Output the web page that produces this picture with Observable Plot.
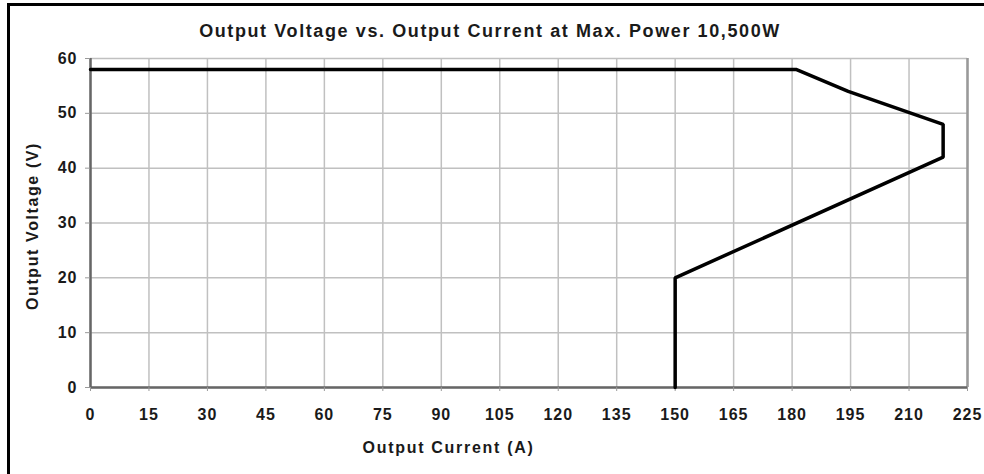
<!DOCTYPE html>
<html>
<head>
<meta charset="utf-8">
<script src="https://cdn.jsdelivr.net/npm/d3@7"></script>
<script src="https://cdn.jsdelivr.net/npm/@observablehq/plot@0.6"></script>
<style>
  html, body { margin: 0; padding: 0; background: #fff; overflow: hidden; }
  #wrap { position: relative; width: 984px; height: 474px; overflow: hidden; font-family: "Liberation Sans", Arial, sans-serif; }
  #frame { position: absolute; left: 7px; top: 3px; width: 1000px; height: 500px; border-left: 3px solid #000; border-top: 3px solid #000; box-sizing: border-box; }
  .lbl { position: absolute; font-weight: bold; color: #1a1a1a; white-space: nowrap; line-height: normal; }
  #title { left: 0; width: 980px; top: 21px; text-align: center; font-size: 18px; letter-spacing: 1.6px; }
  #xlab { left: 0; width: 897px; top: 439px; text-align: center; font-size: 16px; letter-spacing: 1.7px; }
  #ylab { left: 33px; top: 226px; font-size: 16px; letter-spacing: 1.6px; transform: translate(-50%, -50%) rotate(-90deg); }
  #chart { position: absolute; left: 0; top: 0; }
</style>
</head>
<body>
<div id="wrap">
  <div id="chart"></div>
  <div id="frame"></div>
  <div class="lbl" id="title">Output Voltage vs. Output Current at Max. Power 10,500W</div>
  <div class="lbl" id="xlab">Output Current (A)</div>
  <div class="lbl" id="ylab">Output Voltage (V)</div>
</div>
<script>
const current = [0, 181, 194.4, 218.75, 218.75, 150, 150];
const voltage = [58, 58, 54, 48, 42, 20, 0];
const xTicks = [0, 15, 30, 45, 60, 75, 90, 105, 120, 135, 150, 165, 180, 195, 210, 225];
const yTicks = [0, 10, 20, 30, 40, 50, 60];

const pts = current.map((c, i) => ({ current: c, voltage: voltage[i] }));

const chart = Plot.plot({
  width: 984,
  height: 474,
  marginLeft: 90,
  marginRight: 17,
  marginTop: 58,
  marginBottom: 87,
  style: { fontFamily: "Liberation Sans, Arial, sans-serif", fontSize: "16px", fontWeight: "bold", color: "#1a1a1a", letterSpacing: "1px", background: "transparent" },
  x: { domain: [0, 225], ticks: xTicks },
  y: { domain: [0, 60], ticks: yTicks },
  marks: [
    Plot.ruleX(xTicks, { stroke: "#c0c0c0", strokeWidth: 1.5 }),
    Plot.ruleY(yTicks, { stroke: "#c0c0c0", strokeWidth: 1.5 }),
    Plot.ruleX([225], { stroke: "#999", strokeWidth: 2.5 }),
    Plot.ruleY([0], { stroke: "#666", strokeWidth: 2.5 }),
    Plot.ruleX([0], { stroke: "#666", strokeWidth: 2.5 }),
    Plot.axisX(xTicks, { tickSize: 4, tickPadding: 17, stroke: "#999", label: null, fontSize: 16, fontWeight: "bold" }),
    Plot.axisY(yTicks, { tickSize: 5, tickPadding: 8, stroke: "#999", label: null, fontSize: 16, fontWeight: "bold" }),
    Plot.line(pts, { x: "current", y: "voltage", stroke: "#000", strokeWidth: 3.5, strokeLinejoin: "miter" })
  ]
});
document.getElementById("chart").appendChild(chart);
</script>
</body>
</html>
